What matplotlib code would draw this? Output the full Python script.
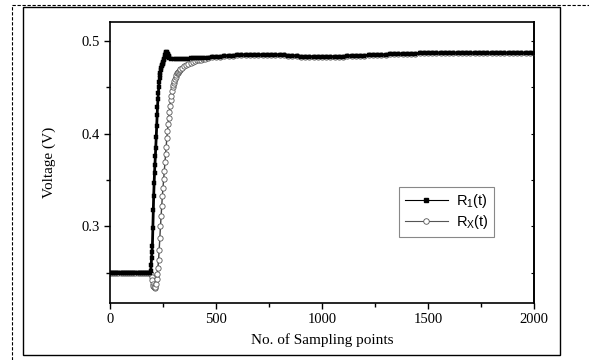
import numpy as np
import matplotlib.pyplot as plt
from matplotlib.lines import Line2D
from matplotlib.patches import Rectangle

# flat start, shared by both traces
base_x = np.arange(0, 190, 10)
base_v = [0.250] * len(base_x)

# R1(t) rise
r1_rise_x = np.arange(190, 282, 2)
r1_rise_v = [0.250, 0.252, 0.258, 0.266, 0.273, 0.279, 0.298, 0.318, 0.333, 0.347,
             0.358, 0.366, 0.376, 0.385, 0.396, 0.408, 0.420, 0.429, 0.437, 0.444,
             0.450, 0.456, 0.460, 0.463, 0.466, 0.469, 0.471, 0.473, 0.474, 0.475,
             0.476, 0.477, 0.479, 0.481, 0.483, 0.485, 0.486, 0.487, 0.488, 0.488,
             0.487, 0.486, 0.485, 0.484, 0.483, 0.482]
r1_mid_x = np.arange(290, 460, 10)
r1_mid_v = [0.481, 0.481, 0.481, 0.481, 0.481, 0.481, 0.481, 0.481, 0.481,
            0.482, 0.482, 0.482, 0.482, 0.482, 0.482, 0.482, 0.482]

# RX(t) dip and slower rise
rx_rise_x = np.arange(190, 334, 3)
rx_rise_v = [0.250, 0.249, 0.246, 0.242, 0.238, 0.236, 0.235, 0.234, 0.235, 0.238,
             0.243, 0.249, 0.255, 0.264, 0.275, 0.288, 0.300, 0.311, 0.322, 0.333,
             0.342, 0.351, 0.360, 0.370, 0.378, 0.386, 0.395, 0.403, 0.410, 0.417,
             0.423, 0.430, 0.436, 0.441, 0.446, 0.450, 0.453, 0.455, 0.457, 0.459,
             0.461, 0.463, 0.465, 0.466, 0.467, 0.468, 0.469, 0.470]
rx_mid_x = np.arange(340, 460, 10)
rx_mid_v = [0.471, 0.473, 0.474, 0.475, 0.476, 0.477, 0.478, 0.479, 0.480,
            0.480, 0.481, 0.481]

# common plateau
plat_x = np.arange(460, 2001, 20)
plat_v = [0.482, 0.483, 0.483, 0.483, 0.484, 0.484, 0.484, 0.485, 0.485, 0.485,
          0.485, 0.485, 0.485, 0.485, 0.485, 0.485, 0.485, 0.485, 0.485, 0.484,
          0.484, 0.484, 0.483, 0.483, 0.483, 0.483, 0.483, 0.483, 0.483, 0.483,
          0.483, 0.483, 0.483, 0.484, 0.484, 0.484, 0.484, 0.484, 0.485, 0.485,
          0.485, 0.485, 0.485, 0.486, 0.486, 0.486, 0.486, 0.486, 0.486, 0.486,
          0.487, 0.487, 0.487, 0.487, 0.487, 0.487, 0.487, 0.487, 0.487, 0.487,
          0.487, 0.487, 0.487, 0.487, 0.487, 0.487, 0.487, 0.487, 0.487, 0.487,
          0.487, 0.487, 0.487, 0.487, 0.487, 0.487, 0.487, 0.487]

x_ticks = [0, 500, 1000, 1500, 2000]
y_ticks = [0.3, 0.4, 0.5]
series_labels = [r"R$_\mathregular{1}$(t)", r"R$_\mathregular{X}$(t)"]

SERIF = "Liberation Serif"
SANS = "Liberation Sans"


def main():
    r1_x = np.concatenate([base_x, r1_rise_x, r1_mid_x, plat_x])
    r1_v = np.concatenate([base_v, r1_rise_v, r1_mid_v, plat_v])
    rx_x = np.concatenate([base_x, rx_rise_x, rx_mid_x, plat_x])
    rx_v = np.concatenate([base_v, rx_rise_v, rx_mid_v, plat_v])

    fig = plt.figure(figsize=(5.89, 3.6), dpi=100)
    W, H = 589.0, 360.0

    # page decorations: dashed outer border + solid frame
    fig.add_artist(Line2D([12 / W, 12 / W, 1.0], [0.0, 1 - 5 / H, 1 - 5 / H],
                          transform=fig.transFigure, color="black", lw=0.8,
                          ls=(0, (3, 1.5))))
    fig.add_artist(Rectangle((23 / W, 5 / H), (560 - 23) / W, (355 - 7) / H,
                             transform=fig.transFigure, fill=False,
                             edgecolor="black", lw=1.0))

    ax = fig.add_axes([110 / W, 1 - 303 / H, (534 - 110) / W, (303 - 22) / H])

    ax.plot(rx_x, rx_v, color="#444444", lw=1.0, marker="o", ms=3.8,
            mfc="white", mec="#555555", mew=0.6)
    ax.plot(r1_x, r1_v, color="black", lw=2.0, marker="s", ms=3.0,
            mfc="black", mec="black", mew=0.3)

    ax.set_xlim(0, 2000)
    ax.set_ylim(0.2175, 0.5205)
    ax.set_xticks(x_ticks)
    ax.set_yticks(y_ticks)
    ax.set_xticks(np.arange(250, 2000, 500), minor=True)
    ax.set_yticks([0.25, 0.35, 0.45], minor=True)

    for s in ax.spines.values():
        s.set_linewidth(1.2)
    ax.tick_params(which="both", direction="out", width=1.0, top=False, right=False)
    ax.tick_params(which="major", length=4.5, labelsize=10.5, pad=3)
    ax.tick_params(which="minor", length=3)
    for lab in ax.get_xticklabels() + ax.get_yticklabels():
        lab.set_fontfamily(SERIF)

    # small inward ticks on the right side
    sec = ax.secondary_yaxis("right")
    sec.set_yticks([0.25, 0.3, 0.35, 0.4, 0.45, 0.5])
    sec.tick_params(direction="in", length=2.5, width=0.8, labelright=False)
    sec.spines["right"].set_linewidth(1.2)

    ax.set_xlabel("No. of Sampling points", fontfamily=SERIF, fontsize=11, labelpad=5)
    ax.set_ylabel("Voltage (V)", fontfamily=SERIF, fontsize=11, labelpad=18)

    # legend keys drawn thin, like the original figure
    handles = [
        Line2D([], [], color="black", lw=0.8, marker="s", ms=3.0, mfc="black"),
        Line2D([], [], color="#555555", lw=0.8, marker="o", ms=4.0,
               mfc="white", mec="#555555", mew=0.6),
    ]
    leg = ax.legend(handles, series_labels, loc="upper right",
                    bbox_to_anchor=(0.922, 0.44), frameon=True, fancybox=False,
                    edgecolor="#888888", framealpha=1.0, handlelength=3.0,
                    borderpad=0.35, labelspacing=0.25, handletextpad=0.5,
                    prop={"family": SANS, "size": 10.5})
    leg.get_frame().set_linewidth(0.8)

    fig.savefig("out.png", dpi=100)
    plt.close(fig)


if __name__ == "__main__":
    main()
